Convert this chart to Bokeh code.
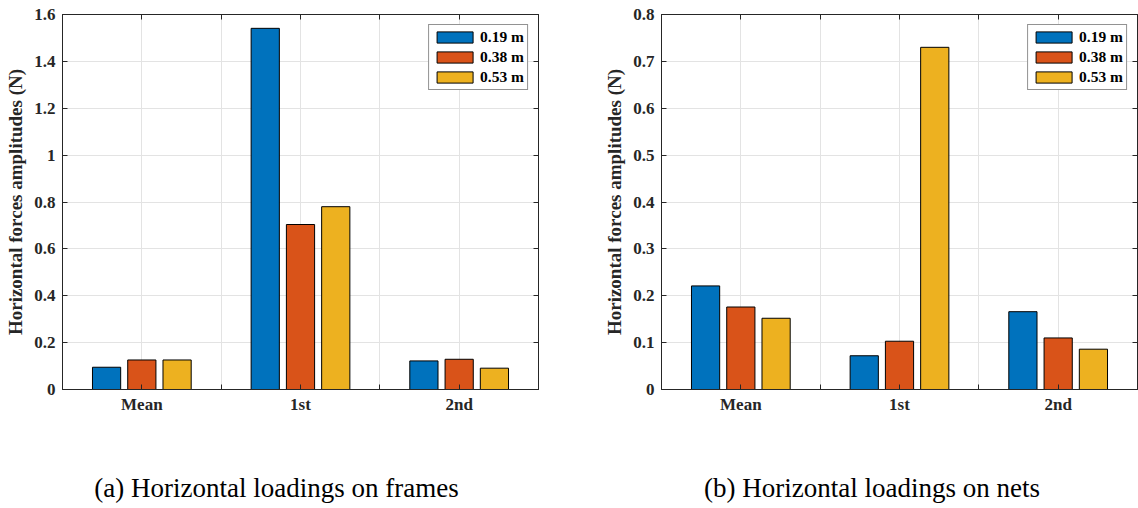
from bokeh.plotting import figure
from bokeh.models import (ColumnDataSource, FixedTicker, LinearAxis, Range1d, Legend, Label)
from bokeh.layouts import row, column
from bokeh.transform import dodge
from bokeh.embed import file_html
from bokeh.resources import INLINE

# ---------------- data ----------------
categories = ["Mean", "1st", "2nd"]
series_labels = ["0.19 m", "0.38 m", "0.53 m"]
series_colors = ["#0072BD", "#D95319", "#EDB120"]

frames_019 = [0.095, 1.541, 0.122]
frames_038 = [0.126, 0.704, 0.129]
frames_053 = [0.126, 0.780, 0.091]

nets_019 = [0.221, 0.072, 0.166]
nets_038 = [0.176, 0.103, 0.110]
nets_053 = [0.152, 0.730, 0.086]

frames_yticks = [0, 0.2, 0.4, 0.6, 0.8, 1.0, 1.2, 1.4, 1.6]
frames_ytick_labels = ["0", "0.2", "0.4", "0.6", "0.8", "1", "1.2", "1.4", "1.6"]
nets_yticks = [0, 0.1, 0.2, 0.3, 0.4, 0.5, 0.6, 0.7, 0.8]
nets_ytick_labels = ["0", "0.1", "0.2", "0.3", "0.4", "0.5", "0.6", "0.7", "0.8"]

x_tick_positions = [1, 1.5, 2, 2.5, 3]
x_tick_labels = ["Mean", "", "1st", "", "2nd"]

y_label = "Horizontal forces amplitudes (N)"
captions = ["(a) Horizontal loadings on frames", "(b) Horizontal loadings on nets"]

# ---------------- styling ----------------
FONT = "Liberation Serif"
TXT = "#262626"
GRID = "#e3e3e3"
GROUP_OFFSET = 2.0 / 9.0      # MATLAB grouped-bar spacing for 3 series
BAR_WIDTH = 0.8 * GROUP_OFFSET
TOP_BORDER = 14
BOTTOM_BORDER = 50
FRAME_H = 375
CAPTION_H = 508 - (TOP_BORDER + FRAME_H + BOTTOM_BORDER)


def make_panel(values, yticks, ytick_labels, ymax, left_border, right_border):
    src = ColumnDataSource(dict(
        pos=[1, 2, 3], cat=categories,
        s0=values[0], s1=values[1], s2=values[2]))
    p = figure(frame_width=476, frame_height=FRAME_H,
               x_range=Range1d(0.5, 3.5), y_range=Range1d(0, ymax),
               output_backend="svg", toolbar_location=None,
               min_border_left=left_border, min_border_right=right_border,
               min_border_top=TOP_BORDER, min_border_bottom=BOTTOM_BORDER,
               background_fill_color="white", border_fill_color="white")
    p.outline_line_color = TXT
    p.outline_line_width = 1

    renderers = []
    for i, key in enumerate(["s0", "s1", "s2"]):
        r = p.vbar(x=dodge("pos", (i - 1) * GROUP_OFFSET, range=p.x_range),
                   top=key, width=BAR_WIDTH, bottom=0, source=src,
                   fill_color=series_colors[i], line_color="black", line_width=1)
        renderers.append((series_labels[i], [r]))

    # main axes
    xa = p.xaxis[0]
    xa.ticker = FixedTicker(ticks=x_tick_positions)
    xa.major_label_overrides = {t: l for t, l in zip(x_tick_positions, x_tick_labels)}
    ya = p.yaxis[0]
    ya.ticker = FixedTicker(ticks=yticks)
    ya.major_label_overrides = {t: l for t, l in zip(yticks, ytick_labels)}
    ya.axis_label = y_label
    ya.axis_label_text_font = FONT
    ya.axis_label_text_font_style = "bold"
    ya.axis_label_text_font_size = "19px"
    ya.axis_label_text_color = TXT
    ya.axis_label_standoff = 5
    for ax in (xa, ya):
        ax.axis_line_color = TXT
        ax.major_tick_in = 5
        ax.major_tick_out = 0
        ax.minor_tick_line_color = None
        ax.major_tick_line_color = TXT
        ax.major_label_text_font = FONT
        ax.major_label_text_font_style = "bold"
        ax.major_label_text_font_size = "17px"
        ax.major_label_text_color = TXT
    ya.major_label_standoff = 7
    xa.major_label_standoff = 5

    # mirrored tick axes (box on)
    top = LinearAxis(ticker=FixedTicker(ticks=x_tick_positions))
    right = LinearAxis(ticker=FixedTicker(ticks=yticks))
    for ax in (top, right):
        ax.axis_line_color = TXT
        ax.major_tick_in = 5
        ax.major_tick_out = 0
        ax.major_tick_line_color = TXT
        ax.minor_tick_line_color = None
        ax.major_label_text_font_size = "0px"
        ax.major_label_standoff = 0
    top.major_label_overrides = {t: "" for t in x_tick_positions}
    right.major_label_overrides = {t: "" for t in yticks}
    p.add_layout(top, "above")
    p.add_layout(right, "right")

    p.xgrid.ticker = FixedTicker(ticks=x_tick_positions)
    p.ygrid.ticker = FixedTicker(ticks=yticks)
    p.grid.grid_line_color = GRID
    p.grid.grid_line_width = 1

    legend = Legend(items=renderers, location="top_right")
    legend.margin = 10
    legend.padding = 3
    legend.spacing = 2
    legend.glyph_width = 45
    legend.glyph_height = 14
    legend.label_height = 17
    legend.label_standoff = 3
    legend.border_line_color = TXT
    legend.border_line_width = 1
    legend.background_fill_color = "white"
    legend.background_fill_alpha = 1
    legend.label_text_font = FONT
    legend.label_text_font_style = "bold"
    legend.label_text_font_size = "15.5px"
    legend.label_text_color = "black"
    p.add_layout(legend, "center")
    return p


p1 = make_panel([frames_019, frames_038, frames_053], frames_yticks,
                frames_ytick_labels, 1.6, 62, 62)
p2 = make_panel([nets_019, nets_038, nets_053], nets_yticks,
                nets_ytick_labels, 0.8, 61, 1)


def caption_fig(text, width, center_x):
    c = figure(width=width, height=CAPTION_H, x_range=Range1d(0, width),
               y_range=Range1d(0, CAPTION_H),
               output_backend="svg", toolbar_location=None, min_border=0,
               background_fill_color="white", border_fill_color="white")
    c.axis.visible = False
    c.grid.visible = False
    c.outline_line_color = None
    c.add_layout(Label(x=center_x, y=21, text=text, text_align="center",
                       text_baseline="alphabetic", text_font=FONT,
                       text_font_size="27px", text_color="black"))
    return c


c1 = caption_fig(captions[0], 600, 276)
c2 = caption_fig(captions[1], 538, 271.5)

layout = column(row(p1, p2), row(c1, c2))

open("out.html", "w").write(file_html(layout, INLINE))
